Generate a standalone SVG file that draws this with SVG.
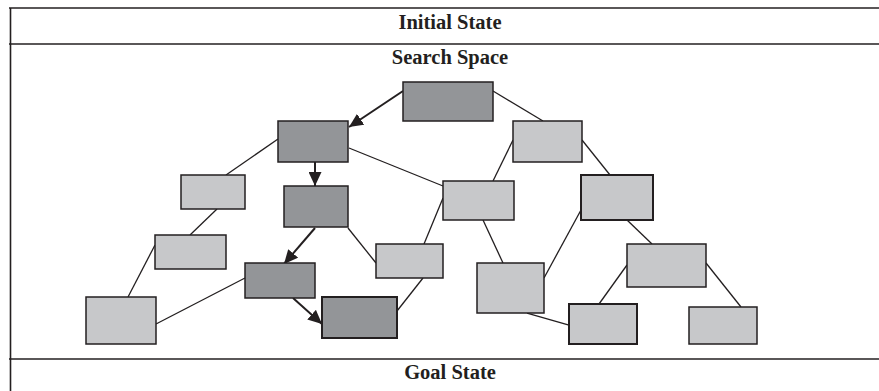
<svg xmlns="http://www.w3.org/2000/svg" width="879" height="391" viewBox="0 0 879 391">
<style>
.frame{stroke:#231f20;stroke-width:1.6;fill:none}
.t{font-family:"Liberation Serif","Times New Roman",serif;font-weight:bold;font-size:20.5px;fill:#231f20;text-anchor:middle}
.dk{fill:#939598;stroke:#231f20;stroke-width:1.5}
.lt{fill:#c7c8ca;stroke:#231f20;stroke-width:1.5}
.lt2{fill:#c7c8ca;stroke:#231f20;stroke-width:2}
.e{stroke:#231f20;stroke-width:1.3;fill:none}
.a{stroke:#231f20;stroke-width:2;fill:none;marker-end:url(#ah)}
</style>
<defs>
<marker id="ah" markerUnits="userSpaceOnUse" markerWidth="15" markerHeight="13" refX="14" refY="6.5" orient="auto">
<path d="M0,0 L14,6.5 L0,13 z" fill="#231f20"/>
</marker>
</defs>
<rect width="879" height="391" fill="#ffffff"/>
<g id="frame">
<line class="frame" x1="9" y1="8" x2="879" y2="8"/>
<line class="frame" x1="9" y1="44" x2="879" y2="44"/>
<line class="frame" x1="9" y1="359" x2="879" y2="359"/>
<line class="frame" x1="10.5" y1="8" x2="10.5" y2="391"/>
<text class="t" x="450" y="29">Initial State</text>
<text class="t" x="450" y="64">Search Space</text>
<text class="t" x="450" y="379">Goal State</text>
</g>
<g id="connectors">
<line class="a" x1="403" y1="91" x2="349" y2="127"/>
<line class="e" x1="493" y1="91" x2="543" y2="121"/>
<line class="a" x1="315" y1="162" x2="315" y2="186"/>
<line class="e" x1="278" y1="139" x2="226" y2="175"/>
<line class="e" x1="349" y1="148" x2="443" y2="186"/>
<line class="e" x1="217" y1="209" x2="190" y2="235"/>
<line class="a" x1="315" y1="228" x2="284" y2="264"/>
<line class="e" x1="348" y1="228" x2="376" y2="263"/>
<line class="e" x1="424" y1="244" x2="443" y2="198"/>
<line class="e" x1="423" y1="278" x2="397" y2="311"/>
<line class="e" x1="493" y1="181" x2="513" y2="140"/>
<line class="e" x1="483" y1="220" x2="503" y2="263"/>
<line class="e" x1="582" y1="140" x2="610" y2="175"/>
<line class="e" x1="627" y1="220" x2="652" y2="244"/>
<line class="e" x1="581" y1="210" x2="544" y2="278"/>
<line class="e" x1="527" y1="313" x2="569" y2="325"/>
<line class="e" x1="627" y1="265" x2="599" y2="304"/>
<line class="e" x1="706" y1="263" x2="741" y2="307"/>
<line class="e" x1="155" y1="245" x2="128" y2="297"/>
<line class="e" x1="245" y1="278" x2="156" y2="324"/>
<line class="a" x1="293" y1="298" x2="322" y2="324"/>
</g>
<g id="nA"><rect class="dk" x="403" y="82" width="90" height="39"/></g>
<g id="nB"><rect class="dk" x="278" y="121" width="70" height="41"/></g>
<g id="nC"><rect class="lt" x="181" y="175" width="64" height="34"/></g>
<g id="nD"><rect class="dk" x="284" y="186" width="64" height="41"/></g>
<g id="nE"><rect class="lt" x="155" y="235" width="71" height="34"/></g>
<g id="nF"><rect class="dk" x="245" y="263" width="70" height="35"/></g>
<g id="nG"><rect class="lt" x="443" y="181" width="71" height="39"/></g>
<g id="nH"><rect class="lt" x="376" y="244" width="67" height="34"/></g>
<g id="nI"><rect class="lt" x="513" y="121" width="69" height="41"/></g>
<g id="nJ"><rect class="lt2" x="581" y="175" width="72" height="45"/></g>
<g id="nK"><rect class="lt" x="477" y="263" width="67" height="50"/></g>
<g id="nL"><rect class="lt" x="627" y="244" width="79" height="43"/></g>
<g id="nM"><rect class="lt2" x="569" y="304" width="68" height="40"/></g>
<g id="nN"><rect class="lt" x="689" y="307" width="68" height="37"/></g>
<g id="nO"><rect class="dk" x="322" y="297" width="75" height="41" style="stroke-width:2"/></g>
<g id="nP"><rect class="lt" x="86" y="297" width="70" height="47"/></g>
</svg>
